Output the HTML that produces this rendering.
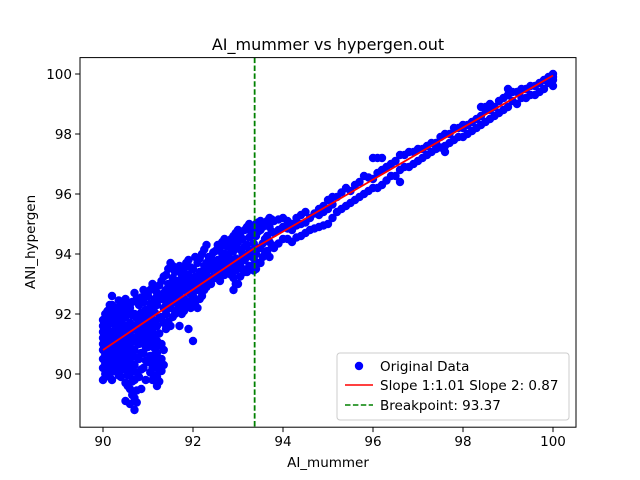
<!DOCTYPE html>
<html><head><meta charset="utf-8"><style>body{margin:0;background:#fff}svg{display:block;font-family:"DejaVu Sans","Liberation Sans",sans-serif}</style></head>
<body>
<svg id="chart" width="640" height="480" viewBox="0 0 640 480" xmlns="http://www.w3.org/2000/svg">
<rect width="640" height="480" fill="#fff"/>
<text x="328" y="50" font-size="16" text-anchor="middle">AI_mummer vs hypergen.out</text>
<g id="marks"></g>
<rect x="80" y="57.6" width="496" height="369.6" fill="none" stroke="#000" stroke-width="1"/>
<g id="axes"></g>
<text x="328" y="467" font-size="13.5" text-anchor="middle">AI_mummer</text>
<text transform="translate(35,242) rotate(-90)" font-size="13.5" text-anchor="middle">ANI_hypergen</text>
<g>
<rect x="337" y="353" width="232" height="67" rx="3" fill="#fff" fill-opacity="0.8" stroke="#ccc"/>
<circle cx="359" cy="366" r="4.2" fill="#0000ff"/>
<text x="380" y="371" font-size="13.5">Original Data</text>
<line x1="345" y1="385" x2="373" y2="385" stroke="#ff0000" stroke-width="1.5"/>
<text x="380" y="390" font-size="13.5">Slope 1:1.01 Slope 2: 0.87</text>
<line x1="345" y1="405" x2="373" y2="405" stroke="#008000" stroke-width="1.5" stroke-dasharray="5.5,2.4"/>
<text x="380" y="410" font-size="13.5">Breakpoint: 93.37</text>
</g>
</svg>
<script>
const colX = [90.0,90.1,90.2,90.3,90.4,90.5,90.6,90.7,90.8,90.9,91.0,91.1,91.2,91.3,91.4,91.5,91.6,91.7,91.8,91.9,92.0,92.1,92.2,92.3,92.4,92.5,92.6,92.7,92.8,92.9,93.0,93.1,93.2,93.3,93.4,93.5,93.6,93.7,93.8,94.0,94.2,94.4,94.6,94.8,95.0,95.2,95.4,95.6,95.8,96.0,96.2,96.4,96.6,96.8,97.0,97.2,97.4,97.6,97.8,98.0,98.2,98.4,98.6,98.8,99.0,99.2,99.4,99.6,99.8,100.0,
 90.05,90.15,90.25,90.35,90.45,90.55,90.65,90.75,90.85,90.95,91.05,91.15,91.25,91.35,91.45,91.55,91.65,91.75,91.85,91.95,92.05,92.15,92.25,92.35,92.45,92.55,92.65,92.75,92.85,92.95,93.05,93.15,93.25,93.35,93.45,93.55,93.65,93.75,93.9,94.1,94.3,94.5,94.7,94.9,95.1,95.3,95.5,95.7,95.9,96.1,96.3,96.5,96.7,96.9,97.1,97.3,97.5,97.7,97.9,98.1,98.3,98.5,98.7,98.9,99.1,99.3,99.5,99.7,99.9];
const colY = [[90.2,90.5,90.8,91.0,91.2,91.4,91.6,91.8,89.8],[90.0,90.4,90.7,91.1,91.5,91.9,92.1],[89.8,90.3,90.6,90.9,91.3,91.7,92.0,92.3,92.6],[90.1,90.5,90.8,91.2,91.6,92.0,92.2,91.0],[89.9,90.3,90.7,91.1,91.5,91.8,92.4],[89.1,89.7,90.2,90.6,91.0,91.4,91.9,92.5],[89.0,89.5,90.0,90.4,90.9,91.3,91.7,92.2],[88.8,89.2,89.8,90.3,90.8,91.2,91.6,92.0,92.7],[89.9,90.5,91.0,91.4,91.8,92.3],[90.2,90.7,91.1,91.5,91.9,92.4,92.8],[90.4,90.9,91.3,91.7,92.1,92.6,91.0],[89.8,90.2,90.6,91.0,91.4,91.8,92.2,92.9,93.0],[89.6,89.9,90.3,90.7,91.1,91.6,92.3,92.7],[90.1,90.5,91.0,91.9,92.5,93.1],[91.5,92.0,92.4,92.8,93.3],[91.6,92.2,92.6,93.0,93.7],[92.0,92.4,92.9,93.4],[91.6,92.3,92.7,93.1,93.6],[92.1,92.5,93.0,93.5],[91.5,92.4,92.9,93.3,93.8],[91.1,92.6,93.0,93.5],[92.2,92.8,93.2,93.7],[92.6,93.0,93.4,94.0],[92.9,93.3,93.7,94.3],[93.0,93.5,93.9],[93.2,93.6,94.1],[93.1,93.4,93.8,94.2],[93.3,93.7,94.0,94.5],[93.5,93.9,94.3],[92.8,93.2,93.6,94.1,94.6],[93.0,93.8,94.4,94.8],[93.5,94.0,94.5],[93.4,93.9,94.3,94.9],[93.6,94.1,94.7],[93.5,94.0,94.6,95.0],[93.7,94.2,94.8,95.1],[94.0,94.5,95.0],[93.9,94.4,94.9,95.2],[94.2,94.7,95.1],[94.5,94.9,95.2],[94.4,94.8,95.0],[94.6,95.0,95.3],[94.8,95.2],[94.9,95.3,95.5],[95.0,95.5,95.8],[95.4,95.9],[95.6,96.2],[95.8,96.3],[96.0,96.6],[96.2,97.2,96.5],[96.3,96.8,97.2],[96.6,97.0],[96.8,97.3,96.4],[96.9,97.4],[97.1,97.5],[97.3,97.6],[97.5,97.7],[97.6,98.0,97.4],[97.8,98.2],[97.9,98.2,98.3],[98.1,98.4],[98.3,98.6,98.9],[98.5,98.8,99.0],[98.7,99.1],[98.9,99.3,99.5],[99.0,99.4],[99.2,99.5],[99.3,99.6],[99.5,99.8],[99.6,99.8,100.0,99.9],
 [90.0,90.35,90.65,90.95,91.3,91.55,91.75,92.0],[89.9,90.2,90.55,90.85,91.2,91.4,91.7,92.3],[90.1,90.45,90.75,91.05,91.45,91.85,92.15],[89.95,90.3,90.65,91.0,91.35,91.75,92.1,92.45],[90.15,90.5,90.85,91.25,91.65,92.0,92.25],[89.6,89.95,90.4,90.8,91.2,91.6,92.05,92.3],[89.3,89.75,90.2,90.6,91.1,91.5,91.95,92.4],[89.05,89.45,90.05,90.55,91.05,91.45,91.85,92.5],[89.5,90.15,90.7,91.2,91.6,92.05,92.55],[89.8,90.45,90.9,91.3,91.7,92.15,92.6],[90.05,90.6,91.1,91.5,91.9,92.35,92.8],[89.95,90.4,90.85,91.25,91.65,92.05,92.5,92.85],[89.75,90.1,90.5,90.95,91.35,91.85,92.5,92.95],[90.3,90.8,91.7,92.2,92.7,93.25],[91.75,92.2,92.6,93.0,93.5],[91.9,92.4,92.8,93.2,93.6],[92.15,92.6,93.1,93.5],[92.0,92.5,92.9,93.3],[92.3,92.75,93.2,93.7],[92.2,92.65,93.1,93.55],[92.4,92.8,93.25,93.9],[92.5,93.0,93.4,93.85],[92.8,93.2,93.6,94.15],[93.1,93.5,93.9],[93.25,93.7,94.05],[93.4,93.8,94.3],[93.3,93.6,94.0,94.4],[93.5,93.85,94.25],[93.3,93.7,94.1,94.5],[93.0,93.45,93.85,94.3,94.7],[93.25,93.6,94.15,94.6],[93.4,93.8,94.25,94.8],[93.6,94.05,94.55,95.0],[93.45,93.85,94.35,94.9],[93.7,94.2,94.75,95.05],[93.9,94.35,94.9],[94.1,94.6,95.1],[94.3,94.75,95.15],[94.35,94.8,95.15],[94.5,94.85,95.1],[94.55,94.95,95.2],[94.7,95.05,95.4],[94.85,95.35],[94.95,95.4,95.6],[95.2,95.65,95.9],[95.5,96.05],[95.7,96.1],[95.9,96.4],[96.1,96.55],[96.2,96.7,97.2],[96.45,96.9],[96.6,97.1],[96.9,97.3],[97.0,97.4],[97.2,97.5],[97.4,97.7],[97.55,97.9],[97.7,98.0],[97.9,98.2],[98.0,98.3],[98.2,98.5],[98.4,98.8,98.9],[98.6,98.9],[98.8,99.2],[99.1,99.4],[99.2,99.5],[99.3,99.6],[99.4,99.7],[99.7,99.9]];
const xTicks = [90,92,94,96,98,100];
const yTicks = [90,92,94,96,98,100];
const fitX = [90, 93.37, 100];
const fitY = [90.8, 94.2, 99.95];
const breakpoint = 93.37;

const NS = "http://www.w3.org/2000/svg";
const xMin = 89.489, xMax = 100.511, yMin = 88.227, yMax = 100.547;
const L = 80, R = 576, T = 57.6, B = 427.2;
function sx(v){ return L + (v - xMin) / (xMax - xMin) * (R - L); }
function sy(v){ return B - (v - yMin) / (yMax - yMin) * (B - T); }
function mk(tag, attrs){ const e = document.createElementNS(NS, tag); for (const k in attrs) e.setAttribute(k, attrs[k]); return e; }
const marks = document.getElementById('marks');
const axes = document.getElementById('axes');
colX.forEach((x, i) => {
  (colY[i] || []).forEach(y => {
    const c = mk('circle', {cx: sx(x), cy: sy(y), r: 4.2, fill: '#0000ff'});
    
    
    marks.appendChild(c);
  });
});
const fit = mk('polyline', {points: fitX.map((x, i) => sx(x) + ',' + sy(fitY[i])).join(' '), fill: 'none', stroke: '#ff0000', 'stroke-width': 1.8});


marks.appendChild(fit);
const bp = mk('line', {x1: sx(breakpoint), x2: sx(breakpoint), y1: T, y2: B, stroke: '#008000', 'stroke-width': 1.8, 'stroke-dasharray': '5.5,2.4'});


marks.appendChild(bp);
xTicks.forEach(t => {
  const x = sx(t);
  const tk = mk('line', {x1: x, x2: x, y1: B, y2: B + 4.9, stroke: '#000'});
  
  
  axes.appendChild(tk);
  const lb = mk('text', {x: x, y: B + 19, 'font-size': 13.5, 'text-anchor': 'middle'});
  lb.textContent = t;
  
  
  axes.appendChild(lb);
});
yTicks.forEach(t => {
  const y = sy(t);
  const tk = mk('line', {x1: L - 4.9, x2: L, y1: y, y2: y, stroke: '#000'});
  
  
  axes.appendChild(tk);
  const lb = mk('text', {x: L - 8, y: y + 5, 'font-size': 13.5, 'text-anchor': 'end'});
  lb.textContent = t;
  
  
  axes.appendChild(lb);
});
</script>
</body></html>
